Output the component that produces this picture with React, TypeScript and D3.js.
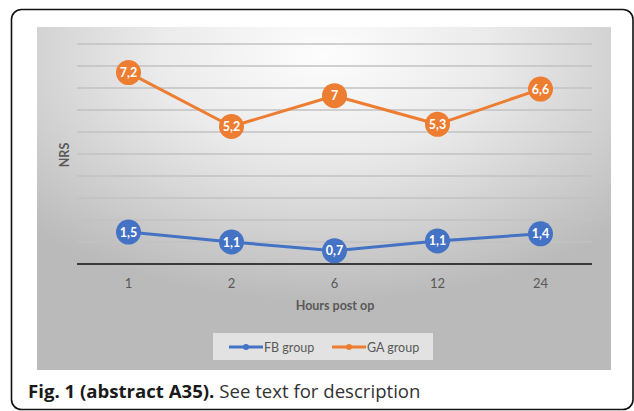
import React from "react";
import * as d3 from "d3";

// Data
const hours = ["1", "2", "6", "12", "24"];
const fbValues = [1.45, 1.0, 0.6, 1.05, 1.37];
const fbLabels = ["1,5", "1,1", "0,7", "1,1", "1,4"];
const gaValues = [8.7, 6.25, 7.65, 6.35, 7.95];
const gaLabels = ["7,2", "5,2", "7", "5,3", "6,6"];
const yTicks = [1, 2, 3, 4, 5, 6, 7, 8, 9, 10];
const seriesNames = ["FB group", "GA group"];

const W = 634;
const H = 411;
const BLUE = "#4472C4";
const ORANGE = "#ED7D31";
const CHART_FONT = "Lato, 'Open Sans', sans-serif";

export default function App() {
  const plot = { left: 77, right: 592, top: 44, bottom: 264 };
  const x = d3
    .scalePoint<string>()
    .domain(hours)
    .range([plot.left, plot.right])
    .padding(0.5);
  const y = d3.scaleLinear().domain([0, 10]).range([plot.bottom, plot.top]);

  const line = d3
    .line<number>()
    .x((_, i) => x(hours[i]) as number)
    .y((d) => y(d));

  const series = [
    { name: seriesNames[0], values: fbValues, labels: fbLabels, color: BLUE },
    { name: seriesNames[1], values: gaValues, labels: gaLabels, color: ORANGE },
  ];

  return (
    <div style={{ position: "absolute", left: 0, top: 0 }}>
      <svg width={W} height={H} style={{ display: "block", background: "#fff" }}>
        <defs>
          <radialGradient id="bg" cx="50%" cy="8%" r="72%" fx="50%" fy="8%">
            <stop offset="0%" stopColor="#fdfdfd" />
            <stop offset="40%" stopColor="#ebebeb" />
            <stop offset="100%" stopColor="#bababa" />
          </radialGradient>
        </defs>
        <rect
          x={11.5}
          y={9.5}
          width={621.5}
          height={400}
          rx={10}
          fill="#fff"
          stroke="#111"
          strokeWidth={1.6}
        />
        <rect x={37} y={27} width={574} height={343} fill="url(#bg)" />

        {yTicks.map((t) => (
          <line
            key={t}
            x1={plot.left}
            x2={plot.right}
            y1={y(t)}
            y2={y(t)}
            stroke="#c2c2c2"
            strokeWidth={1.5}
          />
        ))}
        <line
          x1={plot.left}
          x2={plot.right}
          y1={y(0)}
          y2={y(0)}
          stroke="#3a3a3a"
          strokeWidth={1.8}
        />

        {hours.map((h) => (
          <text
            key={h}
            x={x(h)}
            y={288}
            textAnchor="middle"
            fontFamily={CHART_FONT}
            fontSize={13}
            fill="#595959"
          >
            {h}
          </text>
        ))}
        <text
          x={335}
          y={310}
          textAnchor="middle"
          fontFamily={CHART_FONT}
          fontSize={12.5}
          fontWeight="bold"
          fill="#595959"
        >
          Hours post op
        </text>
        <text
          transform={`translate(69,155) rotate(-90)`}
          textAnchor="middle"
          fontFamily={CHART_FONT}
          fontSize={12.5}
          fontWeight="bold"
          fill="#595959"
        >
          NRS
        </text>

        {series.map((s) => (
          <g key={s.name}>
            <path
              d={line(s.values) || ""}
              fill="none"
              stroke={s.color}
              strokeWidth={3}
              strokeLinejoin="round"
            />
            {s.values.map((v, i) => (
              <g key={i}>
                <circle cx={x(hours[i])} cy={y(v)} r={12.5} fill={s.color} />
                <text
                  x={x(hours[i])}
                  y={y(v) + 4.5}
                  textAnchor="middle"
                  fontFamily={CHART_FONT}
                  fontSize={12.5}
                  fontWeight="bold"
                  fill="#fff"
                >
                  {s.labels[i]}
                </text>
              </g>
            ))}
          </g>
        ))}

        <rect x={213} y={333} width={220} height={27} fill="#e9e9e9" opacity={0.85} />
        {series.map((s, i) => {
          const lx = i === 0 ? 229 : 332;
          return (
            <g key={s.name}>
              <line x1={lx} x2={lx + 34} y1={347} y2={347} stroke={s.color} strokeWidth={3} />
              <circle cx={lx + 17} cy={347} r={3} fill={s.color} />
              <text
                x={lx + 35}
                y={351.5}
                fontFamily={CHART_FONT}
                fontSize={12.5}
                fill="#595959"
              >
                {s.name}
              </text>
            </g>
          );
        })}

        <text
          x={28}
          y={398}
          fontFamily="'Open Sans', sans-serif"
          fontSize={18.6}
          fill="#333"
        >
          <tspan fontWeight="bold" fill="#1a1a1a">Fig. 1 (abstract A35).</tspan>
          <tspan> See text for description</tspan>
        </text>
      </svg>
    </div>
  );
}
